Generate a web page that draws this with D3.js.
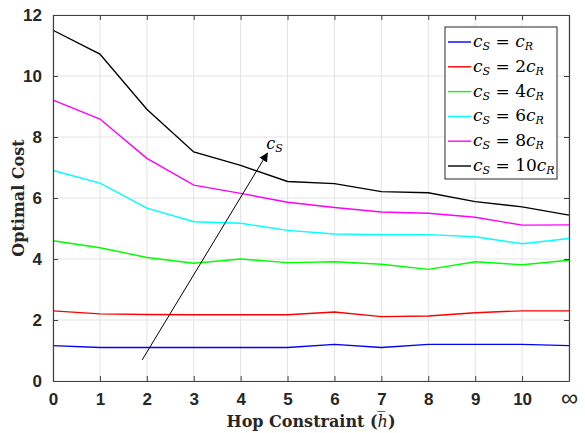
<!DOCTYPE html>
<html>
<head>
<meta charset="utf-8">
<script src="https://cdn.jsdelivr.net/npm/d3@7"></script>
<style>
  body { margin: 0; background: #fff; }
  svg { display: block; }
</style>
</head>
<body>
<div id="chart"></div>
<script>
// hop constraint values (11 stands for infinity)
const hops = [0, 1, 2, 3, 4, 5, 6, 7, 8, 9, 10, 11];
const hopLabels = ["0", "1", "2", "3", "4", "5", "6", "7", "8", "9", "10", "\u221E"];
const yTicks = [0, 2, 4, 6, 8, 10, 12];

const ratios = ["", "2", "4", "6", "8", "10"];
const colors = ["#0000ff", "#ff0000", "#00ff00", "#00ffff", "#ff00ff", "#000000"];

const cost1 = [1.16, 1.1, 1.1, 1.1, 1.1, 1.1, 1.2, 1.1, 1.2, 1.2, 1.2, 1.16];
const cost2 = [2.3, 2.2, 2.18, 2.17, 2.17, 2.17, 2.26, 2.11, 2.13, 2.24, 2.3, 2.3];
const cost4 = [4.6, 4.37, 4.05, 3.86, 4.0, 3.88, 3.91, 3.83, 3.66, 3.91, 3.81, 3.96];
const cost6 = [6.9, 6.49, 5.67, 5.22, 5.17, 4.94, 4.82, 4.8, 4.8, 4.73, 4.5, 4.67];
const cost8 = [9.21, 8.59, 7.3, 6.42, 6.15, 5.86, 5.69, 5.54, 5.5, 5.37, 5.11, 5.12];
const cost10 = [11.5, 10.72, 8.91, 7.51, 7.07, 6.54, 6.47, 6.21, 6.17, 5.88, 5.71, 5.44];
const series = [cost1, cost2, cost4, cost6, cost8, cost10];

// arrow annotation (data coords)
const arrowFrom = [1.9, 0.69];
const arrowTo = [4.57, 7.47];

const W = 585, H = 433;
const margin = { top: 15, right: 16, bottom: 52, left: 53 };
const width = W - margin.left - margin.right;
const height = H - margin.top - margin.bottom;

const svg = d3.select("#chart").append("svg")
    .attr("width", W).attr("height", H);

const g = svg.append("g")
    .attr("transform", `translate(${margin.left},${margin.top})`);

const x = d3.scaleLinear().domain([0, 11]).range([0, width]);
const y = d3.scaleLinear().domain([0, 12]).range([height, 0]);

// grid
g.append("g").selectAll("line").data(hops).enter().append("line")
    .attr("x1", d => x(d)).attr("x2", d => x(d))
    .attr("y1", 0).attr("y2", height)
    .attr("stroke", "#e3e3e3").attr("stroke-width", 1);
g.append("g").selectAll("line").data(yTicks).enter().append("line")
    .attr("x1", 0).attr("x2", width)
    .attr("y1", d => y(d)).attr("y2", d => y(d))
    .attr("stroke", "#e3e3e3").attr("stroke-width", 1);

// series lines
const line = d3.line()
    .x((d, i) => x(hops[i]))
    .y(d => y(d));

g.selectAll(".series").data(series).enter().append("path")
    .attr("class", "series")
    .attr("d", line)
    .attr("fill", "none")
    .attr("stroke", (d, i) => colors[i])
    .attr("stroke-width", 1.4);

// axes, MATLAB style: ticks inward
const tickFont = "'Liberation Sans', Arial, sans-serif";
const xAxis = g.append("g")
    .attr("transform", `translate(0,${height})`)
    .call(d3.axisBottom(x).tickValues(hops).tickFormat((d, i) => hopLabels[i])
        .tickSizeInner(-5).tickSizeOuter(0).tickPadding(12));
const yAxis = g.append("g")
    .call(d3.axisLeft(y).tickValues(yTicks).tickSizeInner(-5).tickSizeOuter(0).tickPadding(11));
g.append("g")
    .call(d3.axisTop(x).tickValues(hops).tickFormat("").tickSizeInner(-5).tickSizeOuter(0));
g.append("g")
    .attr("transform", `translate(${width},0)`)
    .call(d3.axisRight(y).tickValues(yTicks).tickFormat("").tickSizeInner(-5).tickSizeOuter(0));

g.selectAll(".domain").attr("stroke", "#404040").attr("stroke-width", 1.2);
g.selectAll(".tick line").attr("stroke", "#404040");
g.selectAll(".tick text")
    .attr("fill", "#262626")
    .style("font-family", tickFont)
    .style("font-size", "17px")
    .style("font-weight", "bold");
xAxis.selectAll(".tick text").filter((d, i) => i === 11)
    .style("font-weight", "normal").style("font-size", "24px").attr("dy", "0.55em");

// axis labels
const serif = "'DejaVu Serif', 'Liberation Serif', serif";
const xl = svg.append("text")
    .attr("x", margin.left + width / 2).attr("y", 427)
    .attr("text-anchor", "middle")
    .style("font-family", serif).style("font-size", "16px").style("font-weight", "bold")
    .attr("fill", "#262626");
xl.append("tspan").text("Hop Constraint (");
xl.append("tspan").text("h\u0305").style("font-style", "italic").style("font-weight", "normal");
xl.append("tspan").text(")");

svg.append("text")
    .attr("transform", `translate(24,${margin.top + height / 2}) rotate(-90)`)
    .attr("text-anchor", "middle")
    .style("font-family", serif).style("font-size", "16px").style("font-weight", "bold")
    .attr("fill", "#262626")
    .text("Optimal Cost");

// arrow annotation
svg.append("defs").append("marker")
    .attr("id", "head").attr("viewBox", "0 0 10 10")
    .attr("refX", 9).attr("refY", 5)
    .attr("markerWidth", 9).attr("markerHeight", 9)
    .attr("markerUnits", "userSpaceOnUse")
    .attr("orient", "auto")
    .append("path").attr("d", "M0,0 L10,5 L0,10 z").attr("fill", "#000");

g.append("line")
    .attr("x1", x(arrowFrom[0])).attr("y1", y(arrowFrom[1]))
    .attr("x2", x(arrowTo[0])).attr("y2", y(arrowTo[1]))
    .attr("stroke", "#000").attr("stroke-width", 1)
    .attr("marker-end", "url(#head)");

const math = "'DejaVu Serif', 'Liberation Serif', serif";
const ann = g.append("text")
    .attr("x", x(arrowTo[0]) - 1).attr("y", y(arrowTo[1]) - 4)
    .style("font-family", math).style("font-size", "16px").style("font-style", "italic");
ann.append("tspan").text("c");
ann.append("tspan").text("S").attr("dy", 3).style("font-size", "11px");

// legend
const legX = 445, legY = 27, legW = 112, legH = 152;
svg.append("rect")
    .attr("x", legX).attr("y", legY).attr("width", legW).attr("height", legH)
    .attr("fill", "#fff").attr("stroke", "#262626").attr("stroke-width", 1);

const items = svg.selectAll(".leg").data(ratios).enter().append("g")
    .attr("class", "leg")
    .attr("transform", (d, i) => `translate(${legX},${legY + 15 + i * 24.8})`);
items.append("line")
    .attr("x1", 3).attr("x2", 26).attr("y1", 0).attr("y2", 0)
    .attr("stroke", (d, i) => colors[i]).attr("stroke-width", 1.4);
const lt = items.append("text")
    .attr("x", 28).attr("y", 5)
    .style("font-family", math).style("font-size", "17px").attr("fill", "#000");
lt.append("tspan").text("c").style("font-style", "italic");
lt.append("tspan").text("S").attr("dy", 3).style("font-size", "11px").style("font-style", "italic");
lt.append("tspan").text(d => " = " + d).attr("dy", -3);
lt.append("tspan").text("c").style("font-style", "italic");
lt.append("tspan").text("R").attr("dy", 3).style("font-size", "11px").style("font-style", "italic");
</script>
</body>
</html>
